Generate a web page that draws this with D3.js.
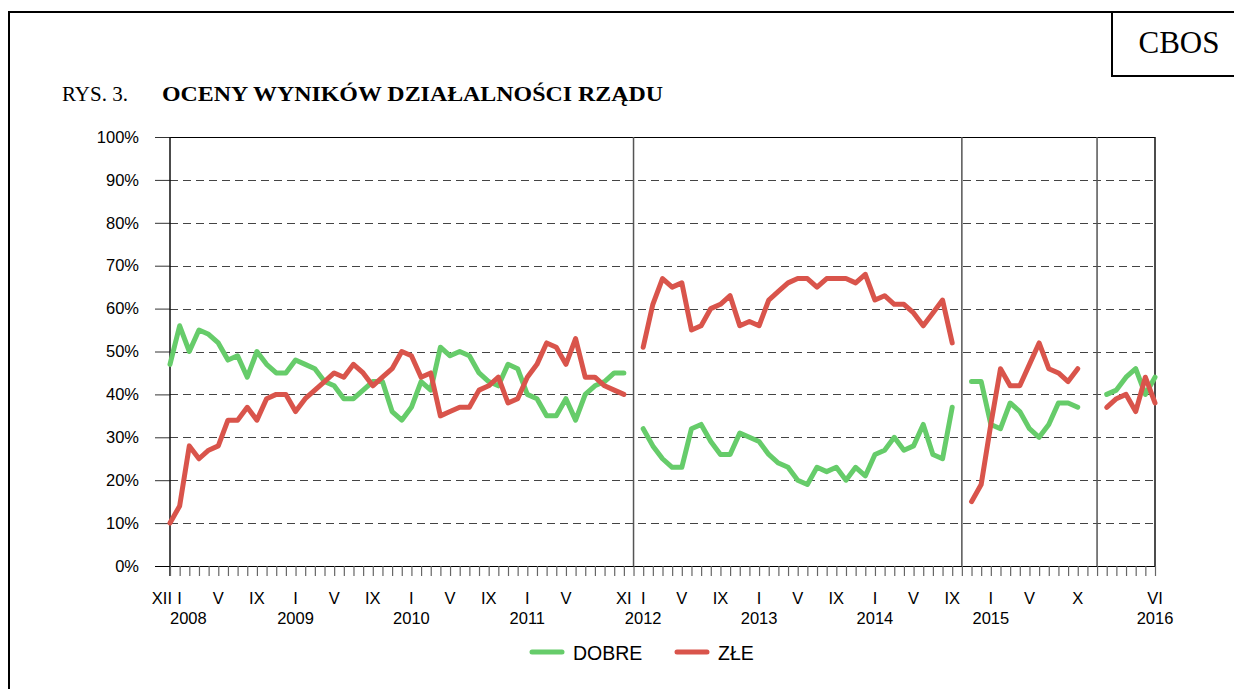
<!DOCTYPE html>
<html>
<head>
<meta charset="utf-8">
<script src="https://cdn.jsdelivr.net/npm/d3@7"></script>
<style>
  html, body { margin: 0; padding: 0; background: #fff; }
  svg { display: block; }
</style>
</head>
<body>
<svg id="chart" width="1234" height="689"></svg>
<script>
// ---------- DATA ----------
// month index 0 = XII 2007, 102 = VI 2016
const seriesNames = ["DOBRE", "ZŁE"];
const seriesColors = ["#66cc6a", "#d9544b"];

const seg1Start = 0;   // XII 2007 .. XI 2011
const dobre1 = [47,56,50,55,54,52,48,49,44,50,47,45,45,48,47,46,43,42,39,39,41,43,43,36,34,37,43,41,51,49,50,49,45,43,42,47,46,40,39,35,35,39,34,40,42,43,45,45];
const zle1   = [10,14,28,25,27,28,34,34,37,34,39,40,40,36,39,41,43,45,44,47,45,42,44,46,50,49,44,45,35,36,37,37,41,42,44,38,39,44,47,52,51,47,53,44,44,42,41,40];

const seg2Start = 49;  // I 2012 .. IX 2014
const dobre2 = [32,28,25,23,23,32,33,29,26,26,31,30,29,26,24,23,20,19,23,22,23,20,23,21,26,27,30,27,28,33,26,25,37];
const zle2   = [51,61,67,65,66,55,56,60,61,63,56,57,56,62,64,66,67,67,65,67,67,67,66,68,62,63,61,61,59,56,59,62,52];

const seg3Start = 83;  // XI 2014 .. X 2015
const dobre3 = [43,43,33,32,38,36,32,30,33,38,38,37];
const zle3   = [15,19,33,46,42,42,47,52,46,45,43,46];

const seg4Start = 97;  // I 2016 .. VI 2016
const dobre4 = [40,41,44,46,40,44];
const zle4   = [37,39,40,36,44,38];

const separatorMonths = [48, 82, 96];  // XII 2011, X 2014, XII 2015
const monthLabelIdx = [0,1,5,9,13,17,21,25,29,33,37,41,47,49,53,57,61,65,69,73,77,81,85,89,94,102];
const monthLabelTxt = ["XII","I","V","IX","I","V","IX","I","V","IX","I","V","XI","I","V","IX","I","V","IX","I","V","IX","I","V","X","VI"];
const yearLabelIdx = [0,13,25,37,49,61,73,85,102];
const yearLabelTxt = ["2008","2009","2010","2011","2012","2013","2014","2015","2016"];
const yTicks = [0,10,20,30,40,50,60,70,80,90,100];
const monthCount = 102;

// ---------- DRAW ----------
const svg = d3.select("#chart");
const x = d3.scaleLinear().domain([0, monthCount]).range([170, 1155]);
const y = d3.scaleLinear().domain([0, 100]).range([566, 137]);
const serif = "'Liberation Serif', 'Times New Roman', serif";
const labelFont = "'Liberation Sans', Arial, sans-serif";

// outer frame + CBOS box
svg.append("rect").attr("x", 9).attr("y", 12).attr("width", 1240).attr("height", 700)
  .attr("fill", "none").attr("stroke", "#000").attr("stroke-width", 2);
svg.append("rect").attr("x", 1112).attr("y", 12).attr("width", 140).attr("height", 64)
  .attr("fill", "none").attr("stroke", "#000").attr("stroke-width", 2);
svg.append("text").attr("x", 1179).attr("y", 53).attr("text-anchor", "middle")
  .attr("font-family", serif).attr("font-size", 31)
  .text("CBOS");

// title
svg.append("text").attr("x", 62).attr("y", 101)
  .attr("font-family", serif).attr("font-size", 21)
  .text("RYS. 3.");
svg.append("text").attr("x", 162).attr("y", 101)
  .attr("font-family", serif).attr("font-size", 22)
  .attr("font-weight", "bold")
  .attr("textLength", 501).attr("lengthAdjust", "spacingAndGlyphs")
  .text("OCENY WYNIKÓW DZIAŁALNOŚCI RZĄDU");

// gridlines
const grid = svg.append("g");
grid.selectAll("line").data(yTicks.filter(d => d > 0 && d < 100)).join("line")
  .attr("x1", x(0)).attr("x2", x(monthCount))
  .attr("y1", d => Math.round(y(d)) + 0.5).attr("y2", d => Math.round(y(d)) + 0.5)
  .attr("stroke", "#444").attr("stroke-width", 1).attr("stroke-dasharray", "8,5");
svg.append("line").attr("x1", x(0)).attr("x2", x(monthCount))
  .attr("y1", Math.round(y(100)) + 0.5).attr("y2", Math.round(y(100)) + 0.5)
  .attr("stroke", "#000").attr("stroke-width", 1);

// y axis
const yAxis = d3.axisLeft(y).tickValues(yTicks).tickFormat(d => d + "%").tickSize(15).tickPadding(16);
const gy = svg.append("g").attr("transform", `translate(${x(0)},0)`).call(yAxis);
gy.select(".domain").remove();
gy.selectAll(".tick line").attr("stroke", "#333");
gy.selectAll(".tick text").attr("font-family", labelFont)
  .attr("font-size", 16.5).attr("fill", "#000");

// separators + borders
svg.append("g").selectAll("line").data(separatorMonths).join("line")
  .attr("x1", d => x(d)).attr("x2", d => x(d)).attr("y1", y(100)).attr("y2", y(0))
  .attr("stroke", "#555").attr("stroke-width", 1.5);
svg.append("line").attr("x1", x(monthCount)).attr("x2", x(monthCount)).attr("y1", y(100)).attr("y2", y(0))
  .attr("stroke", "#111").attr("stroke-width", 1.5);
svg.append("line").attr("x1", x(0)).attr("x2", x(0)).attr("y1", y(100)).attr("y2", y(0) + 10)
  .attr("stroke", "#111").attr("stroke-width", 1.5);

// x axis
const xAxis = d3.axisBottom(x).tickValues(d3.range(0, monthCount + 1)).tickFormat("").tickSize(10).tickSizeOuter(0);
const gx = svg.append("g").attr("transform", `translate(0,${y(0)})`).call(xAxis);
gx.select(".domain").attr("stroke", "#000").attr("stroke-width", 1.2)
  .attr("d", `M155,0.5H${x(monthCount)}`);
gx.selectAll(".tick line").attr("stroke", "#666").attr("stroke-width", 1.2);

svg.append("g").selectAll("text").data(monthLabelIdx).join("text")
  .attr("x", (d, i) => x(d) + (i === 0 ? 2 : 0))
  .attr("y", 604)
  .attr("text-anchor", (d, i) => i === 0 ? "end" : "middle")
  .attr("font-family", labelFont).attr("font-size", 16.5)
  .text((d, i) => monthLabelTxt[i]);
svg.append("g").selectAll("text").data(yearLabelIdx).join("text")
  .attr("x", d => x(d))
  .attr("y", 624)
  .attr("text-anchor", (d, i) => i === 0 ? "start" : "middle")
  .attr("font-family", labelFont).attr("font-size", 16.5)
  .text((d, i) => yearLabelTxt[i]);

// series lines
const segments = [
  { start: seg1Start, vals: [dobre1, zle1] },
  { start: seg2Start, vals: [dobre2, zle2] },
  { start: seg3Start, vals: [dobre3, zle3] },
  { start: seg4Start, vals: [dobre4, zle4] }
];
const line = d3.line().x(d => x(d[0])).y(d => y(d[1]));
const gl = svg.append("g");
[0, 1].forEach(s => {
  segments.forEach(seg => {
    const pts = seg.vals[s].map((v, i) => [seg.start + i, v]);
    gl.append("path").attr("d", line(pts))
      .attr("fill", "none").attr("stroke", seriesColors[s]).attr("stroke-width", 5)
      .attr("stroke-linejoin", "round").attr("stroke-linecap", "round");
  });
});

// legend
const legendX = [532, 677];
const lg = svg.append("g");
seriesNames.forEach((name, i) => {
  lg.append("line").attr("x1", legendX[i]).attr("x2", legendX[i] + 30).attr("y1", 652).attr("y2", 652)
    .attr("stroke", seriesColors[i]).attr("stroke-width", 5).attr("stroke-linecap", "round");
  lg.append("text").attr("x", legendX[i] + 41).attr("y", 659.5)
    .attr("font-family", labelFont).attr("font-size", 19.5).text(name);
});
</script>
</body>
</html>
